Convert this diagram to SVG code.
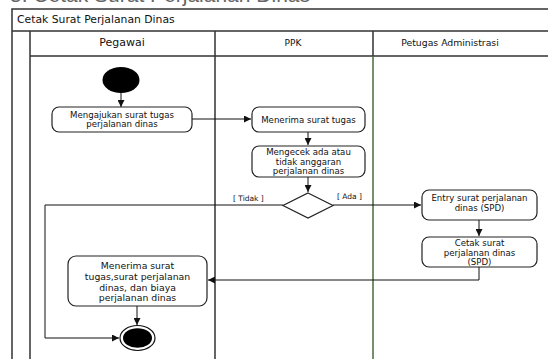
<svg xmlns="http://www.w3.org/2000/svg" width="548" height="359" viewBox="0 0 548 359">
<style>
.ln{stroke:#333;stroke-width:1.5;fill:none}
.gr{stroke:#4b6a3a;stroke-width:1.5;fill:none}
.act{fill:#fff;stroke:#222;stroke-width:1.2}
.t{font-family:"DejaVu Sans",Verdana,sans-serif;fill:#111;text-anchor:middle}
.s{font-size:8.6px}
.c{stroke:#111;stroke-width:1;fill:none;marker-end:url(#ah)}
.lbl{font-family:"DejaVu Sans",Verdana,sans-serif;font-size:7.5px;fill:#111}
</style>
<defs>
<marker id="ah" viewBox="0 0 8 8" refX="8" refY="4" markerWidth="7" markerHeight="7" markerUnits="userSpaceOnUse" orient="auto">
<path d="M0,0 L8,4 L0,8 z" fill="#111"/>
</marker>
</defs>
<rect width="548" height="359" fill="#fff"/>
<text x="10" y="1.5" font-family="'Liberation Sans',Arial,sans-serif" font-size="21" fill="#666">5.   Cetak Surat Perjalanan Dinas</text>
<g id="pool">
<path class="ln" d="M548,9 H12 V359 M12,31 H548 M30,31 V359 M30,56 H548 M215,31 V359 M373,31 V56"/>
<path class="gr" d="M373,56 V359"/>
<text x="17" y="23" font-family="'DejaVu Sans',Verdana,sans-serif" font-size="10.8" fill="#111">Cetak Surat Perjalanan Dinas</text>
<text class="t" x="122" y="46" font-size="11">Pegawai</text>
<text class="t" x="293" y="46" font-size="9">PPK</text>
<text class="t" x="450" y="46" font-size="9.3">Petugas Administrasi</text>
</g>
<g id="connectors">
<path class="c" d="M121,93 V107"/>
<path class="c" d="M192,119 H251"/>
<path class="c" d="M308,132 V145"/>
<path class="c" d="M308,177 V192"/>
<path class="c" d="M333,205 H421"/>
<path class="c" d="M479,220 V236"/>
<path class="c" d="M479,267 V280 H208"/>
<path class="c" d="M137,306 V325"/>
<path class="c" d="M283,205 H45 V338 H119"/>
<text class="lbl" x="233" y="201">[ Tidak ]</text>
<text class="lbl" x="337" y="199">[ Ada ]</text>
</g>
<g id="start"><ellipse cx="121" cy="80" rx="18.5" ry="13" fill="#000"/></g>
<g id="n1">
<rect class="act" x="52" y="107" width="140" height="25" rx="7"/>
<text class="t s" x="122" y="118">Mengajukan surat tugas</text>
<text class="t s" x="122" y="126.5">perjalanan dinas</text>
</g>
<g id="n2">
<rect class="act" x="252" y="107" width="113" height="25" rx="7"/>
<text class="t s" x="308.5" y="122.5">Menerima surat tugas</text>
</g>
<g id="n3">
<rect class="act" x="252" y="146" width="113" height="31" rx="7"/>
<text class="t s" x="308.5" y="155">Mengecek ada atau</text>
<text class="t s" x="308.5" y="164.5">tidak anggaran</text>
<text class="t s" x="308.5" y="173.5">perjalanan dinas</text>
</g>
<g id="decision">
<path d="M308,193 L333,205.5 L308,218 L283,205.5 z" fill="#fff" stroke="#222" stroke-width="1.2"/>
</g>
<g id="n4">
<rect class="act" x="422" y="190" width="115" height="30" rx="7"/>
<text class="t s" x="479.5" y="201">Entry surat perjalanan</text>
<text class="t s" x="479.5" y="211">dinas (SPD)</text>
</g>
<g id="n5">
<rect class="act" x="422" y="237" width="115" height="30" rx="7"/>
<text class="t s" x="479.5" y="246">Cetak surat</text>
<text class="t s" x="479.5" y="256">perjalanan dinas</text>
<text class="t s" x="479.5" y="264.5">(SPD)</text>
</g>
<g id="n6">
<rect class="act" x="68" y="256" width="139" height="50" rx="8"/>
<text class="t" font-size="9.3" x="137.5" y="269">Menerima surat</text>
<text class="t" font-size="9.3" x="137.5" y="280">tugas,surat perjalanan</text>
<text class="t" font-size="9.3" x="137.5" y="290.5">dinas, dan biaya</text>
<text class="t" font-size="9.3" x="137.5" y="301">perjalanan dinas</text>
</g>
<g id="end">
<ellipse cx="137.5" cy="338" rx="17.5" ry="12.5" fill="#fff" stroke="#111" stroke-width="1.2"/>
<ellipse cx="137.5" cy="338" rx="14.5" ry="9.8" fill="#000"/>
</g>
</svg>
